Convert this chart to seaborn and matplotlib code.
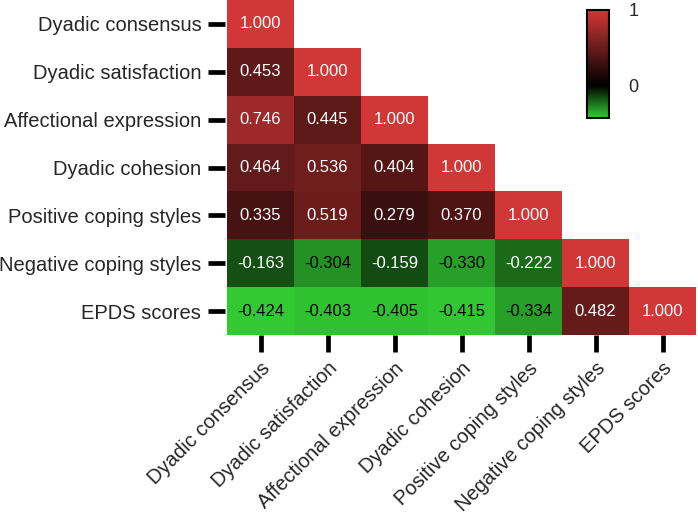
import numpy as np
import pandas as pd
import matplotlib
matplotlib.use('Agg')
import matplotlib.pyplot as plt
import seaborn as sns
from matplotlib.colors import LinearSegmentedColormap

# data
labels = ['Dyadic consensus', 'Dyadic satisfaction', 'Affectional expression',
          'Dyadic cohesion', 'Positive coping styles', 'Negative coping styles',
          'EPDS scores']

row_consensus = [1.000]
row_satisfaction = [0.453, 1.000]
row_affection = [0.746, 0.445, 1.000]
row_cohesion = [0.464, 0.536, 0.404, 1.000]
row_positive = [0.335, 0.519, 0.279, 0.370, 1.000]
row_negative = [-0.163, -0.304, -0.159, -0.330, -0.222, 1.000]
row_epds = [-0.424, -0.403, -0.405, -0.415, -0.334, 0.482, 1.000]

rows = [row_consensus, row_satisfaction, row_affection, row_cohesion,
        row_positive, row_negative, row_epds]

n = len(labels)
mat = np.full((n, n), np.nan)
for i, r in enumerate(rows):
    mat[i, :len(r)] = r
df = pd.DataFrame(mat, index=labels, columns=labels)
mask = np.triu(np.ones((n, n), dtype=bool), k=1)

sns.set_style('white')
plt.rcParams['font.family'] = ['Liberation Sans', 'DejaVu Sans']

vmin, vmax = -0.43, 1.0
zero_pos = -vmin / (vmax - vmin)
cmap = LinearSegmentedColormap.from_list(
    'gkr', [(0.0, '#33cc33'), (zero_pos, '#000000'), (1.0, '#d23737')])

fig = plt.figure(figsize=(6.98, 5.2), dpi=100)
ax = fig.add_axes([227/698, 1 - 335/520, 469/698, 335/520])
cax = fig.add_axes([587/698, 1 - 118/520, 22/698, 108/520])

sns.heatmap(df, mask=mask, cmap=cmap, vmin=vmin, vmax=vmax, annot=False,
            ax=ax, cbar_ax=cax, square=False)

# annotations, white on dark cells and black on light green
for i in range(n):
    for j in range(n):
        if mask[i, j]:
            continue
        v = mat[i, j]
        col = 'white' if v > -0.25 else 'black'
        ax.text(j + 0.5, i + 0.5, f'{v:.3f}', ha='center', va='center',
                color=col, fontsize=12)

for s in ['left', 'bottom']:
    ax.spines[s].set_visible(False)
ax.spines['left'].set_position(('outward', 1.5))
ax.tick_params(axis='both', length=12, width=3.4, color='black', pad=5,
               left=True, bottom=True, labelsize=14.5)
ax.set_yticklabels(labels, rotation=0)
ax.set_xticklabels(labels, rotation=45, ha='right', rotation_mode='anchor')
ax.set_xlabel('')
ax.set_ylabel('')

cb = ax.collections[0].colorbar
cb.set_ticks([0, 1])
cb.set_ticklabels(['0', '1'])
cax.tick_params(length=0, pad=14, labelsize=13)
cb.outline.set_visible(True)
cb.outline.set_edgecolor('black')
cb.outline.set_linewidth(1.5)

fig.savefig('out.png', dpi=100)
